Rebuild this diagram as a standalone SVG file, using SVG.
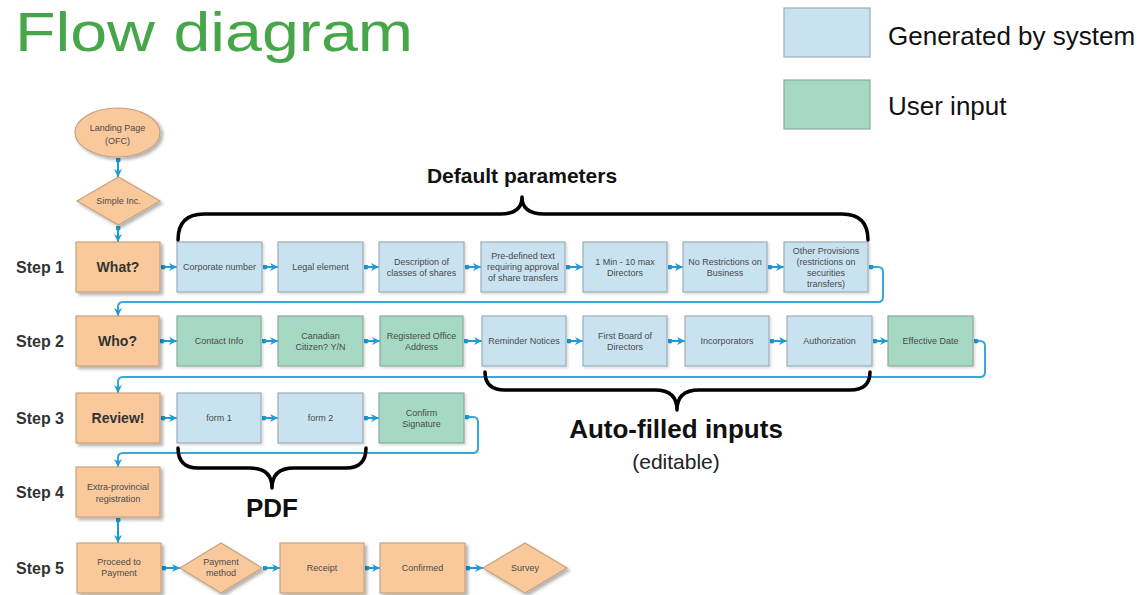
<svg xmlns="http://www.w3.org/2000/svg" width="1143" height="595" viewBox="0 0 1143 595">
  <style>
    .sys { fill: #C9E2F0; stroke: #9DADB7; stroke-width: 1.2; }
    .usr { fill: #A5D9C4; stroke: #8DAA9C; stroke-width: 1.2; }
    .act { fill: #FAC99B; stroke: #C6A27E; stroke-width: 1.2; }
    text { font-family: "Liberation Sans", Arial, sans-serif; }
    .lbl { font-size: 9px; fill: #4a4a4a; text-anchor: middle; }
    .big { font-size: 14px; font-weight: bold; fill: #333; text-anchor: middle; }
    .step { font-size: 16px; font-weight: bold; fill: #333; }
    .flow { stroke: #1E9AD6; stroke-width: 2; fill: none; }
    .ret { stroke: #3AA7DA; stroke-width: 2; fill: none; }
    .brace { stroke: #000; stroke-width: 3.5; fill: none; stroke-linecap: round; stroke-linejoin: round; }
    .note { font-weight: bold; fill: #111; text-anchor: middle; }
    .shadow { filter: url(#drop); }
    .soft { filter: url(#dropSoft); }
  </style>
  <defs>
    <filter id="drop" x="-10%" y="-10%" width="130%" height="130%">
      <feDropShadow dx="2.5" dy="2.5" stdDeviation="1.5" flood-color="#000" flood-opacity="0.3"/>
    </filter>
    <filter id="dropSoft" x="-10%" y="-10%" width="130%" height="130%">
      <feDropShadow dx="1.5" dy="1.5" stdDeviation="1" flood-color="#000" flood-opacity="0.15"/>
    </filter>
    <marker id="arrow" viewBox="0 0 10 10" refX="10" refY="5" markerWidth="8" markerHeight="8" markerUnits="userSpaceOnUse" orient="auto">
      <path d="M0,0 L10,5 L0,10 L3,5 z" fill="#1E9AD6"/>
    </marker>
    <marker id="dot" viewBox="0 0 6 6" refX="3" refY="3" markerWidth="5" markerHeight="5" markerUnits="userSpaceOnUse">
      <circle cx="3" cy="3" r="3" fill="#1E9AD6"/>
    </marker>
  </defs>

  <rect width="1143" height="595" fill="#fff"/>

  <!-- heading -->
  <text x="15" y="51" font-size="56" fill="#46A649" textLength="398" lengthAdjust="spacingAndGlyphs">Flow diagram</text>

  <!-- legend -->
  <g id="legend">
    <rect class="sys" x="784" y="8" width="86" height="49"/>
    <text x="888" y="45" font-size="26" fill="#111">Generated by system</text>
    <rect class="usr" x="784" y="80" width="86" height="49"/>
    <text x="888" y="115" font-size="26" fill="#111">User input</text>
  </g>

  <!-- step labels -->
  <g id="steps">
    <text class="step" x="16" y="273">Step 1</text>
    <text class="step" x="16" y="347">Step 2</text>
    <text class="step" x="16" y="424">Step 3</text>
    <text class="step" x="16" y="498">Step 4</text>
    <text class="step" x="16" y="574">Step 5</text>
  </g>

  <!-- connectors -->
  <g id="connectors">
    <line class="flow" x1="118" y1="160" x2="118" y2="177" marker-start="url(#dot)" marker-end="url(#arrow)"/>
    <line class="flow" x1="118" y1="228" x2="118" y2="242" marker-start="url(#dot)" marker-end="url(#arrow)"/>
    <!-- step 1 -->
    <line class="flow" x1="163" y1="267" x2="177" y2="267" marker-start="url(#dot)" marker-end="url(#arrow)"/>
    <line class="flow" x1="265" y1="267" x2="278" y2="267" marker-start="url(#dot)" marker-end="url(#arrow)"/>
    <line class="flow" x1="366" y1="267" x2="379" y2="267" marker-start="url(#dot)" marker-end="url(#arrow)"/>
    <line class="flow" x1="467" y1="267" x2="481" y2="267" marker-start="url(#dot)" marker-end="url(#arrow)"/>
    <line class="flow" x1="568" y1="267" x2="583" y2="267" marker-start="url(#dot)" marker-end="url(#arrow)"/>
    <line class="flow" x1="670" y1="267" x2="683" y2="267" marker-start="url(#dot)" marker-end="url(#arrow)"/>
    <line class="flow" x1="770" y1="267" x2="784" y2="267" marker-start="url(#dot)" marker-end="url(#arrow)"/>
    <path class="ret" d="M871 267 H878 Q883 267 883 272 V297 Q883 302 878 302 H123 Q118 302 118 307 V316" marker-start="url(#dot)" marker-end="url(#arrow)"/>
    <!-- step 2 -->
    <line class="flow" x1="162" y1="341" x2="177" y2="341" marker-start="url(#dot)" marker-end="url(#arrow)"/>
    <line class="flow" x1="264" y1="341" x2="278" y2="341" marker-start="url(#dot)" marker-end="url(#arrow)"/>
    <line class="flow" x1="366" y1="341" x2="380" y2="341" marker-start="url(#dot)" marker-end="url(#arrow)"/>
    <line class="flow" x1="466" y1="341" x2="482" y2="341" marker-start="url(#dot)" marker-end="url(#arrow)"/>
    <line class="flow" x1="569" y1="341" x2="583" y2="341" marker-start="url(#dot)" marker-end="url(#arrow)"/>
    <line class="flow" x1="670" y1="341" x2="685" y2="341" marker-start="url(#dot)" marker-end="url(#arrow)"/>
    <line class="flow" x1="772" y1="341" x2="787" y2="341" marker-start="url(#dot)" marker-end="url(#arrow)"/>
    <line class="flow" x1="875" y1="341" x2="888" y2="341" marker-start="url(#dot)" marker-end="url(#arrow)"/>
    <path class="ret" d="M976 341 H980 Q985 341 985 346 V372 Q985 377 980 377 H123 Q118 377 118 382 V393" marker-start="url(#dot)" marker-end="url(#arrow)"/>
    <!-- step 3 -->
    <line class="flow" x1="163" y1="418" x2="177" y2="418" marker-start="url(#dot)" marker-end="url(#arrow)"/>
    <line class="flow" x1="264" y1="418" x2="278" y2="418" marker-start="url(#dot)" marker-end="url(#arrow)"/>
    <line class="flow" x1="366" y1="418" x2="379" y2="418" marker-start="url(#dot)" marker-end="url(#arrow)"/>
    <path class="ret" d="M467 417 H473 Q478 417 478 422 V448 Q478 453 473 453 H123 Q118 453 118 458 V467" marker-start="url(#dot)" marker-end="url(#arrow)"/>
    <!-- step 4 to 5 -->
    <line class="flow" x1="118" y1="520" x2="118" y2="543" marker-start="url(#dot)" marker-end="url(#arrow)"/>
    <!-- step 5 -->
    <line class="flow" x1="164" y1="568" x2="180" y2="568" marker-start="url(#dot)" marker-end="url(#arrow)"/>
    <line class="flow" x1="265" y1="568" x2="280" y2="568" marker-start="url(#dot)" marker-end="url(#arrow)"/>
    <line class="flow" x1="367" y1="568" x2="380" y2="568" marker-start="url(#dot)" marker-end="url(#arrow)"/>
    <line class="flow" x1="468" y1="568" x2="483" y2="568" marker-start="url(#dot)" marker-end="url(#arrow)"/>
  </g>

  <!-- start -->
  <g id="landing">
    <ellipse class="act shadow" cx="117.5" cy="132.5" rx="42.5" ry="24.5"/>
    <text class="lbl"><tspan x="117.5" y="131">Landing Page</tspan><tspan x="117.5" y="144">(OFC)</tspan></text>
  </g>
  <g id="simple-inc">
    <polygon class="act shadow" points="118.5,177 160,201 118.5,225 77,201"/>
    <text class="lbl" x="118.5" y="204">Simple Inc.</text>
  </g>

  <!-- step 1 -->
  <g id="what">
    <rect class="act shadow" x="76" y="242" width="84" height="50"/>
    <text class="big" x="118" y="272">What?</text>
  </g>
  <g id="corporate-number">
    <rect class="sys soft" x="177" y="242" width="85" height="50"/>
    <text class="lbl" x="219.5" y="270">Corporate number</text>
  </g>
  <g id="legal-element">
    <rect class="sys soft" x="278" y="242" width="85" height="50"/>
    <text class="lbl" x="320.5" y="270">Legal element</text>
  </g>
  <g id="share-classes">
    <rect class="sys soft" x="379" y="242" width="85" height="50"/>
    <text class="lbl"><tspan x="421.5" y="264.5">Description of</tspan><tspan x="421.5" y="275.5">classes of shares</tspan></text>
  </g>
  <g id="predefined-text">
    <rect class="sys soft" x="481" y="242" width="84" height="50"/>
    <text class="lbl"><tspan x="523" y="259">Pre-defined text</tspan><tspan x="523" y="270">requiring approval</tspan><tspan x="523" y="281">of share transfers</tspan></text>
  </g>
  <g id="directors-range">
    <rect class="sys soft" x="583" y="242" width="84" height="50"/>
    <text class="lbl"><tspan x="625" y="264.5">1 Min - 10 max</tspan><tspan x="625" y="275.5">Directors</tspan></text>
  </g>
  <g id="no-restrictions">
    <rect class="sys soft" x="683" y="242" width="84" height="50"/>
    <text class="lbl"><tspan x="725" y="264.5">No Restrictions on</tspan><tspan x="725" y="275.5">Business</tspan></text>
  </g>
  <g id="other-provisions">
    <rect class="sys soft" x="784" y="242" width="84" height="50"/>
    <text class="lbl"><tspan x="826" y="253.5">Other Provisions</tspan><tspan x="826" y="264.5">(restrictions on</tspan><tspan x="826" y="275.5">securities</tspan><tspan x="826" y="286.5">transfers)</tspan></text>
  </g>

  <!-- step 2 -->
  <g id="who">
    <rect class="act shadow" x="76" y="316" width="83" height="50"/>
    <text class="big" x="117.5" y="346">Who?</text>
  </g>
  <g id="contact-info">
    <rect class="usr soft" x="177" y="316" width="84" height="50"/>
    <text class="lbl" x="219" y="344">Contact Info</text>
  </g>
  <g id="canadian-citizen">
    <rect class="usr soft" x="278" y="316" width="85" height="50"/>
    <text class="lbl"><tspan x="320.5" y="338.5">Canadian</tspan><tspan x="320.5" y="349.5">Citizen? Y/N</tspan></text>
  </g>
  <g id="registered-office">
    <rect class="usr soft" x="380" y="316" width="83" height="50"/>
    <text class="lbl"><tspan x="421.5" y="338.5">Registered Office</tspan><tspan x="421.5" y="349.5">Address</tspan></text>
  </g>
  <g id="reminder-notices">
    <rect class="sys soft" x="482" y="316" width="84" height="50"/>
    <text class="lbl" x="524" y="344">Reminder Notices</text>
  </g>
  <g id="first-board">
    <rect class="sys soft" x="583" y="316" width="84" height="50"/>
    <text class="lbl"><tspan x="625" y="338.5">First Board of</tspan><tspan x="625" y="349.5">Directors</tspan></text>
  </g>
  <g id="incorporators">
    <rect class="sys soft" x="685" y="316" width="84" height="50"/>
    <text class="lbl" x="727" y="344">Incorporators</text>
  </g>
  <g id="authorization">
    <rect class="sys soft" x="787" y="316" width="85" height="50"/>
    <text class="lbl" x="829.5" y="344">Authorization</text>
  </g>
  <g id="effective-date">
    <rect class="usr soft" x="888" y="316" width="85" height="50"/>
    <text class="lbl" x="930.5" y="344">Effective Date</text>
  </g>

  <!-- step 3 -->
  <g id="review">
    <rect class="act shadow" x="76" y="393" width="84" height="50"/>
    <text class="big" x="118" y="423">Review!</text>
  </g>
  <g id="form-1">
    <rect class="sys soft" x="177" y="393" width="84" height="50"/>
    <text class="lbl" x="219" y="421">form 1</text>
  </g>
  <g id="form-2">
    <rect class="sys soft" x="278" y="393" width="85" height="50"/>
    <text class="lbl" x="320.5" y="421">form 2</text>
  </g>
  <g id="confirm-signature">
    <rect class="usr soft" x="379" y="393" width="85" height="50"/>
    <text class="lbl"><tspan x="421.5" y="415.5">Confirm</tspan><tspan x="421.5" y="426.5">Signature</tspan></text>
  </g>

  <!-- step 4 -->
  <g id="extra-provincial">
    <rect class="act shadow" x="76" y="467" width="84" height="50"/>
    <text class="lbl"><tspan x="118" y="490">Extra-provincial</tspan><tspan x="118" y="501.5">registration</tspan></text>
  </g>

  <!-- step 5 -->
  <g id="proceed-payment">
    <rect class="act shadow" x="77" y="543" width="84" height="50"/>
    <text class="lbl"><tspan x="119" y="564.5">Proceed to</tspan><tspan x="119" y="575.5">Payment</tspan></text>
  </g>
  <g id="payment-method">
    <polygon class="act shadow" points="221,543 262,568 221,593 180,568"/>
    <text class="lbl"><tspan x="221" y="564.5">Payment</tspan><tspan x="221" y="575.5">method</tspan></text>
  </g>
  <g id="receipt">
    <rect class="act shadow" x="280" y="543" width="84" height="50"/>
    <text class="lbl" x="322" y="571">Receipt</text>
  </g>
  <g id="confirmed">
    <rect class="act shadow" x="380" y="543" width="85" height="50"/>
    <text class="lbl" x="422.5" y="571">Confirmed</text>
  </g>
  <g id="survey">
    <polygon class="act shadow" points="525,543 567,568 525,593 483,568"/>
    <text class="lbl" x="525" y="571">Survey</text>
  </g>

  <!-- grouping braces -->
  <g id="default-parameters">
    <path class="brace" d="M178 240 Q178 214 204 214 H500 Q522 214 522 197 Q522 214 544 214 H842 Q868 214 868 240"/>
    <text class="note" x="522" y="183" font-size="21">Default parameters</text>
  </g>
  <g id="auto-filled">
    <path class="brace" d="M485 372 Q485 390 505 390 H655 Q677 390 677 410 Q677 390 699 390 H850 Q870 390 870 372"/>
    <text class="note" x="676" y="438" font-size="26">Auto-filled inputs</text>
    <text x="676" y="469" font-size="21" fill="#222" text-anchor="middle">(editable)</text>
  </g>
  <g id="pdf">
    <path class="brace" d="M178 448 Q178 468 198 468 H250 Q272 468 272 488 Q272 468 294 468 H346 Q366 468 366 448"/>
    <text class="note" x="272" y="517" font-size="26">PDF</text>
  </g>
</svg>
